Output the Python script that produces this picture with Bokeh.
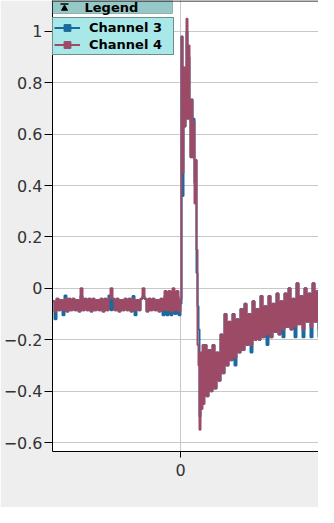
from bokeh.plotting import figure
from bokeh.models import (Range1d, FixedTicker, Span, BoxAnnotation, Label,
                          Legend, LegendItem)
from bokeh.embed import file_html
from bokeh.resources import INLINE

# ---- data ----
# sample grid: coarse before/after the pulse, fine across the pulse
x_base = list(range(-128, 0, 2))
x_pulse = list(range(0, 24))
x_rec = list(range(24, 142, 2))
x = x_base + x_pulse + x_rec

ch4_base = [-0.05, -0.09, -0.04, -0.085, -0.045, -0.085, -0.04, -0.09, -0.04, -0.085,
            -0.04, -0.085, -0.045, -0.09, 0.0, -0.085, -0.04, -0.085, -0.04, -0.09,
            -0.04, -0.085, -0.045, -0.085, -0.04, -0.09, -0.04, -0.085, -0.04, 0.0,
            -0.04, -0.085, -0.04, -0.09, -0.045, -0.085, -0.04, -0.085, -0.04, -0.09,
            -0.04, -0.085, -0.045, -0.085, -0.04, 0.0, -0.04, -0.09, -0.04, -0.085,
            -0.04, -0.085, -0.045, -0.09, -0.04, -0.085, -0.01, -0.085, -0.01, -0.09,
            0.0, -0.085, -0.01, -0.09]
ch3_base = [-0.05, -0.12, -0.04, -0.085, -0.045, -0.105, -0.028, -0.09, -0.04, -0.085,
            -0.04, -0.085, -0.045, -0.09, -0.03, -0.085, -0.04, -0.085, -0.04, -0.09,
            -0.04, -0.085, -0.045, -0.085, -0.04, -0.09, -0.04, -0.085, -0.028, -0.085,
            -0.04, -0.085, -0.04, -0.09, -0.045, -0.085, -0.04, -0.085, -0.04, -0.09,
            -0.03, -0.105, -0.045, -0.085, -0.04, -0.03, -0.04, -0.09, -0.04, -0.085,
            -0.04, -0.085, -0.045, -0.09, -0.04, -0.105, -0.03, -0.105, -0.03, -0.105,
            -0.03, -0.1, -0.03, -0.105]

ch4_pulse = [-0.04, 0.98, 0.45, 0.86, 0.63, 0.86, 1.05, 0.66, 0.945, 0.735,
             0.51, 0.735, 0.51, 0.65, 0.33, 0.5, 0.15, -0.22, -0.3, -0.55,
             -0.25, -0.47, -0.22, -0.45]
ch3_pulse = [-0.06, 0.98, 0.36, 0.86, 0.63, 0.82, 1.0, 0.66, 0.9, 0.735,
             0.51, 0.735, 0.51, 0.66, 0.41, 0.5, 0.06, -0.07, -0.16, -0.5,
             -0.3, -0.45, -0.28, -0.42]

ch4_rec = [-0.22, -0.42, -0.24, -0.4, -0.22, -0.39, -0.25, -0.36, -0.18, -0.33,
           -0.1, -0.3, -0.13, -0.28, -0.1, -0.27, -0.12, -0.25, -0.08, -0.24,
           -0.06, -0.22, -0.1, -0.22, -0.05, -0.2, -0.08, -0.2, -0.03, -0.19,
           -0.07, -0.18, -0.03, -0.19, -0.06, -0.17, -0.02, -0.18, -0.05, -0.16,
           -0.02, -0.15, 0.0, -0.16, -0.04, -0.15, 0.02, -0.14, -0.03, -0.16,
           0.0, -0.13, -0.02, -0.15, 0.02, -0.13, -0.01, -0.16, 0.0]
ch3_rec = [-0.22, -0.42, -0.24, -0.4, -0.22, -0.39, -0.25, -0.36, -0.18, -0.33,
           -0.1, -0.3, -0.13, -0.28, -0.1, -0.3, -0.12, -0.25, -0.08, -0.24,
           -0.06, -0.22, -0.1, -0.25, -0.05, -0.2, -0.08, -0.2, -0.03, -0.19,
           -0.07, -0.22, -0.03, -0.19, -0.06, -0.17, -0.02, -0.18, -0.05, -0.19,
           -0.02, -0.15, 0.0, -0.16, -0.04, -0.19, 0.02, -0.14, -0.03, -0.19,
           0.0, -0.13, -0.02, -0.19, 0.02, -0.13, -0.01, -0.19, 0.0]

ch3 = ch3_base + ch3_pulse + ch3_rec
ch4 = ch4_base + ch4_pulse + ch4_rec

y_ticks = [-0.6, -0.4, -0.2, 0, 0.2, 0.4, 0.6, 0.8, 1.0]
x_ticks = [0]
labels = ["Channel 3", "Channel 4"]

C3 = "#1b6a9e"
C4 = "#9c4a66"

# ---- figure ----
X0, X1 = -128, 138
Y0, Y1 = -0.635, 1.1206
FW, FH = 266, 451
PX = (X1 - X0) / FW
PY = (Y1 - Y0) / FH

p = figure(width=318, height=507, output_backend="svg", toolbar_location=None,
           x_range=Range1d(X0, X1), y_range=Range1d(Y0, Y1),
           min_border_left=52, min_border_right=0, min_border_top=0,
           min_border_bottom=56)
p.border_fill_color = "#eeeeee"
p.background_fill_color = "white"
p.outline_line_color = None

p.xaxis.ticker = FixedTicker(ticks=x_ticks)
p.yaxis.ticker = FixedTicker(ticks=y_ticks)
p.yaxis.major_label_overrides = {0: "0", 1: "1"}
for ax in (p.xaxis, p.yaxis):
    ax.axis_line_color = "black"
    ax.axis_line_width = 1
    ax.major_tick_line_color = "black"
    ax.minor_tick_line_color = None
    ax.major_tick_in = 0
    ax.major_label_text_font = "DejaVu Sans"
    ax.major_label_text_font_size = "16px"
    ax.major_label_text_color = "#333333"
p.yaxis.major_tick_out = 8
p.yaxis.major_label_standoff = 2
p.xaxis.major_tick_out = 6
p.xaxis.major_label_standoff = 6

p.xgrid.grid_line_color = "#c8c8c8"
p.ygrid.grid_line_color = "#c8c8c8"
p.xgrid.grid_line_width = 1
p.ygrid.grid_line_width = 1

r3 = p.step(x, ch3, mode="after", line_color=C3, line_width=2)
r4 = p.step(x, ch4, mode="after", line_color=C4, line_width=2)
s3 = p.scatter(x, ch3, marker="square", color=C3, visible=False)
s4 = p.scatter(x, ch4, marker="square", color=C4, visible=False)

HEAD = 13
LEG_H = 42
legend = Legend(items=[LegendItem(label=labels[0], renderers=[r3, s3]),
                       LegendItem(label=labels[1], renderers=[r4, s4])],
                location=(0, FH - HEAD - LEG_H), margin=0, padding=1, spacing=0,
                glyph_width=26, glyph_height=17, label_height=17,
                label_standoff=9, label_width=83,
                background_fill_color="#a8e8e8", background_fill_alpha=1,
                border_line_color="#333333", border_line_width=1,
                label_text_font="DejaVu Sans", label_text_font_style="bold",
                label_text_font_size="13px", label_text_color="black")
p.add_layout(legend)

p.add_layout(BoxAnnotation(left=X0, right=X0 + 120 * PX, top=Y1,
                           bottom=Y1 - HEAD * PY, fill_color="#96c8c8",
                           fill_alpha=1, line_color="#333333", line_width=1))
p.add_layout(Label(x=X0 + 32 * PX, y=Y1 - 7 * PY, text="Legend",
                   text_font="DejaVu Sans", text_font_style="bold",
                   text_font_size="13px", text_baseline="middle",
                   text_color="black"))
p.add_layout(Span(location=Y1 - 0.5 * PY, dimension="width",
                  line_color="black", line_width=1))
p.scatter(x=[X0 + 12 * PX], y=[Y1 - 8 * PY], marker="triangle", size=6,
          color="black", level="overlay")
p.segment(x0=[X0 + 8 * PX], x1=[X0 + 16 * PX], y0=[Y1 - 3.5 * PY], y1=[Y1 - 3.5 * PY],
          line_color="black", line_width=1.5, level="overlay")

open("out.html", "w").write(file_html(p, INLINE))
